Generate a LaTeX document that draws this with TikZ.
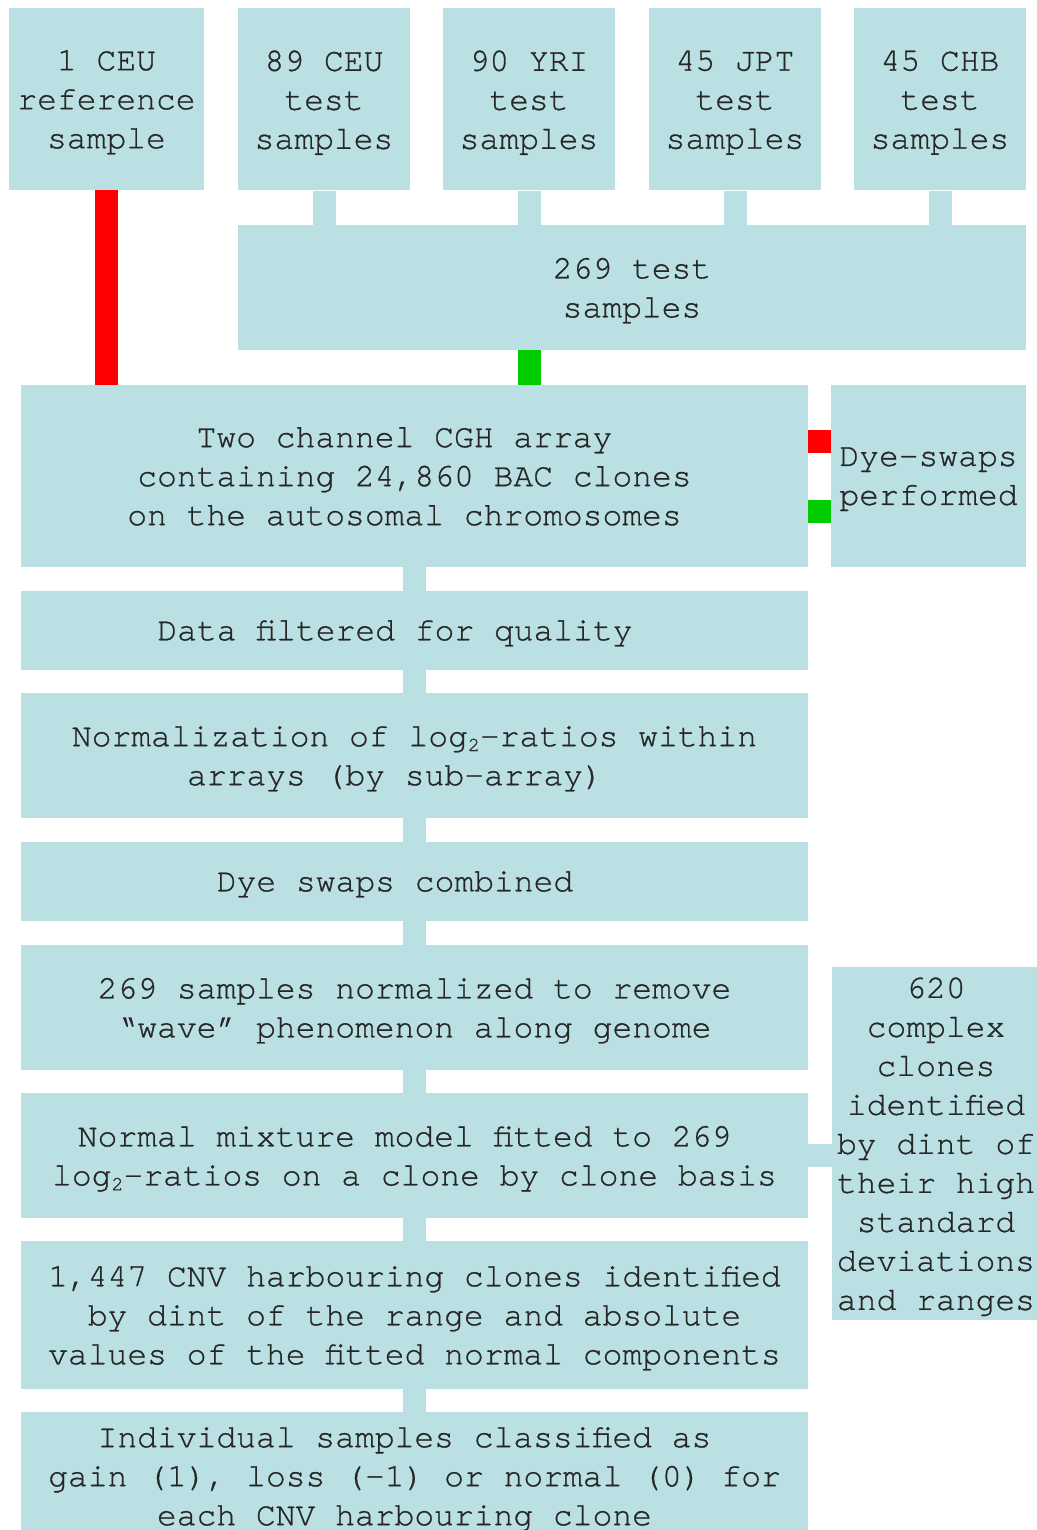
\documentclass[tikz,border=0pt]{standalone}
\usepackage{fontspec}
\setmainfont{texgyrecursor-regular.otf}[FakeBold=0.8]
\definecolor{boxblue}{RGB}{186,224,227}
\definecolor{dyegreen}{RGB}{0,204,0}
\newcommand{\subtwo}{\raisebox{-0.35ex}{\fontsize{20}{20}\selectfont 2}}
\newcommand{\half}{\hspace*{20pt}}  % line sits half a character left
\newcommand{\whole}{\hspace*{39pt}} % line sits a whole character left
\tikzset{
  stage/.style={fill=boxblue, inner sep=0pt},
  words/.style={text=black!85, inner sep=0pt, align=center, font=\fontsize{33}{39}\selectfont, yshift=-6pt,
    execute at begin node=\strut, execute at end node=\strut},
  one line/.style={words, yshift=4pt},
  link/.style={boxblue, line width=23pt},
  dye/.style={line width=23pt}
}

\begin{document}
\begin{tikzpicture}[x=1pt,y=-1pt]
    \useasboundingbox (0,0) rectangle (1036,1530);
    % sample groups
    \node[stage, minimum width=195pt, minimum height=182pt, label={[words]center:1 CEU\\reference\\sample}] (ref) at (106.5,99) {};
    \node[stage, minimum width=172pt, minimum height=182pt, label={[words]center:89 CEU\\test\\samples}] (ceu) at (324,99.5) {};
    \node[stage, minimum width=172pt, minimum height=182pt, label={[words]center:90 YRI\\test\\samples}] (yri) at (529,99.5) {};
    \node[stage, minimum width=172pt, minimum height=182pt, label={[words]center:45 JPT\\test\\samples}] (jpt) at (735,99.5) {};
    \node[stage, minimum width=172pt, minimum height=182pt, label={[words]center:45 CHB\\test\\samples}] (chb) at (940,99.5) {};
    \node[stage, minimum width=788pt, minimum height=125pt, label={[words]center:269 test\\samples}] (tests) at (632,287.5) {};
    % pipeline
    \node[stage, minimum width=787pt, minimum height=182pt, label={[words]center:{Two channel CGH array\half\\containing 24,860 BAC clones\half\\on the autosomal chromosomes\half}}] (array) at (414.5,476) {};
    \node[stage, minimum width=195pt, minimum height=182pt, label={[words]center:Dye-swaps\\performed}] (swaps) at (928.5,476) {};
    \node[stage, minimum width=787pt, minimum height=79pt, label={[one line]center:Data filtered for quality\whole}] (filter) at (414.5,630.5) {};
    \node[stage, minimum width=787pt, minimum height=125pt, label={[words]center:Normalization of log\subtwo-ratios within\\arrays (by sub-array)\whole}] (norm) at (414.5,755.5) {};
    \node[stage, minimum width=787pt, minimum height=79pt, label={[one line]center:Dye swaps combined\whole}] (comb) at (414.5,881.5) {};
    \node[stage, minimum width=787pt, minimum height=125pt, label={[words]center:269 samples normalized to remove\\“wave” phenomenon along genome}] (wave) at (414.5,1007.5) {};
    \node[stage, minimum width=787pt, minimum height=125pt, label={[words]center:Normal mixture model fitted to 269\half\\log\subtwo-ratios on a clone by clone basis}] (mix) at (414.5,1155.5) {};
    \node[stage, minimum width=787pt, minimum height=148pt, label={[words]center:{1,447 CNV harbouring clones identified\\by dint of the range and absolute\half\\values of the fitted normal components}}] (cnv) at (414.5,1315) {};
    \node[stage, minimum width=787pt, minimum height=128pt, label={[words]center:{Individual samples classified as\half\\gain (1), loss (-1) or normal (0) for\\each CNV harbouring clone\half}}] (classify) at (414.5,1476) {};
    \node[stage, minimum width=208pt, minimum height=353pt, label={[words]center:620\\complex\\clones\\identified\\by dint of\\their high\\standard\\deviations\\and ranges}] (complex) at (936,1143.5) {};
    % links
    \foreach \g in {ceu,yri,jpt,chb}
        \draw[link] (\g.south) -- (\g.south |- tests.north);
    \draw[dye, red] (ref.south) -- (ref.south |- array.north); % reference channel
    \draw[dye, dyegreen] (yri.south |- tests.south) -- (yri.south |- array.north); % test channel
    \draw[dye, red] ([yshift=-57pt]array.north east) -- ([yshift=-57pt]swaps.north west);
    \draw[dye, dyegreen] ([yshift=56pt]array.south east) -- ([yshift=56pt]swaps.south west);
    \draw[link] (array) -- (filter);
    \draw[link] (filter) -- (norm);
    \draw[link] (norm) -- (comb);
    \draw[link] (comb) -- (wave);
    \draw[link] (wave) -- (mix);
    \draw[link] (mix) -- (cnv);
    \draw[link] (cnv) -- (classify);
    \draw[link] (mix.east) -- (complex.west |- mix.east); % complex clones
\end{tikzpicture}
\end{document}
